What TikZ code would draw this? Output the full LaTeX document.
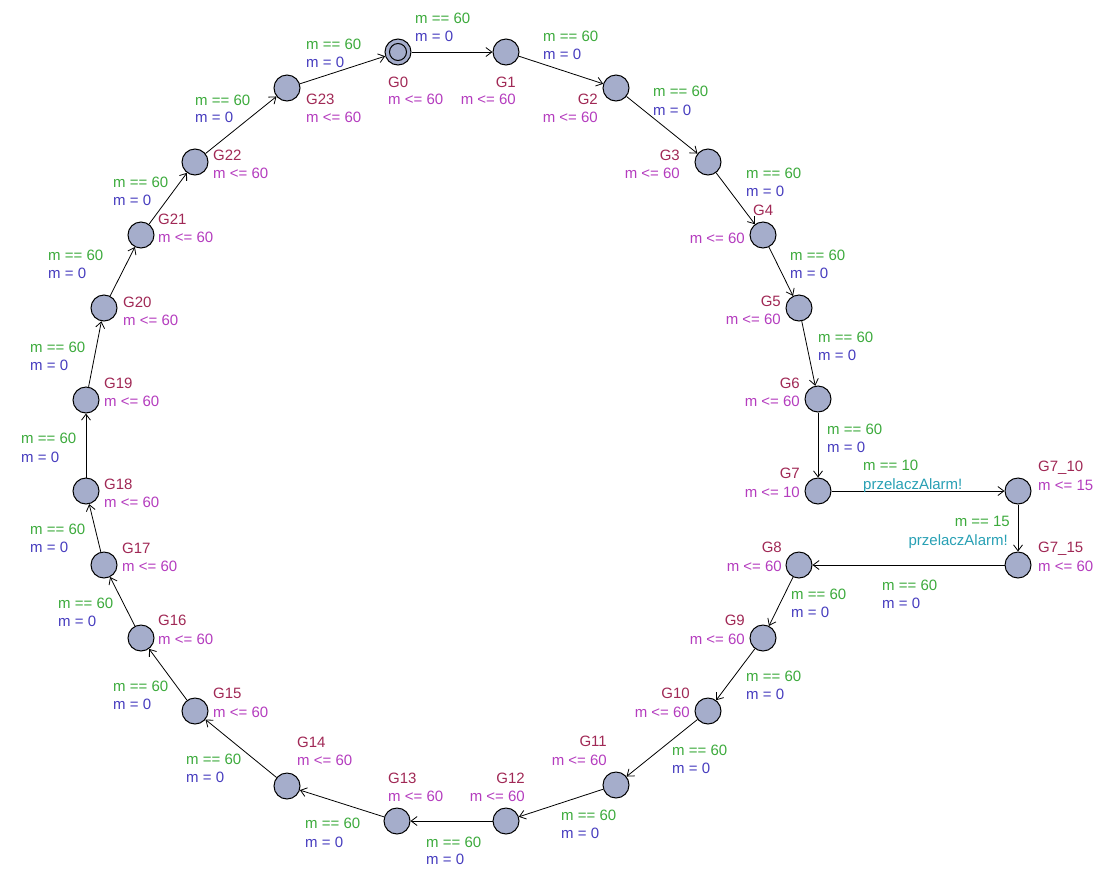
\documentclass[tikz,border=0pt]{standalone}
\usepackage{fontspec}
\setmainfont{Liberation Sans}
\usetikzlibrary{arrows.meta}
\definecolor{locfill}{RGB}{165,173,203}
\definecolor{namecol}{RGB}{160,40,85}
\definecolor{invcol}{RGB}{180,60,190}
\definecolor{guardcol}{RGB}{60,170,60}
\definecolor{updcol}{RGB}{70,60,190}
\definecolor{synccol}{RGB}{40,160,180}
\begin{document}
\begin{tikzpicture}[x=1pt,y=-1pt,
  loc/.style={circle,draw=black,fill=locfill,minimum size=26pt,inner sep=0pt,line width=1pt},
  edge/.style={draw,line width=0.8pt,-{Straight Barb[length=6pt,width=9pt,line width=0.8pt]}},
  lbl/.style={inner sep=0pt,font=\fontsize{15}{18}\selectfont},
  lw/.style={lbl,anchor=base west},
  le/.style={lbl,anchor=base east},
  nm/.style={text=namecol},
  iv/.style={text=invcol},
  gd/.style={text=guardcol},
  up/.style={text=updcol},
  sy/.style={text=synccol}]
\useasboundingbox (0,0) rectangle (1114,879);
% locations
\node[loc] (G0) at (398,52) {};
\draw[line width=1pt] (G0.center) circle (8.5pt);
\node[loc] (G1) at (506,52) {};
\node[loc] (G2) at (616,88) {};
\node[loc] (G3) at (708,162) {};
\node[loc] (G4) at (763,235) {};
\node[loc] (G5) at (799,308) {};
\node[loc] (G6) at (818,399) {};
\node[loc] (G7) at (818,491) {};
\node[loc] (G710) at (1018,491) {};
\node[loc] (G715) at (1018,565) {};
\node[loc] (G8) at (799,565) {};
\node[loc] (G9) at (763,638) {};
\node[loc] (G10) at (708,711) {};
\node[loc] (G11) at (616,785) {};
\node[loc] (G12) at (506,821) {};
\node[loc] (G13) at (397,821) {};
\node[loc] (G14) at (287,786) {};
\node[loc] (G15) at (195,711) {};
\node[loc] (G16) at (141,638) {};
\node[loc] (G17) at (104,565) {};
\node[loc] (G18) at (86,491) {};
\node[loc] (G19) at (86,400) {};
\node[loc] (G20) at (104,308) {};
\node[loc] (G21) at (141,235) {};
\node[loc] (G22) at (195,162) {};
\node[loc] (G23) at (287,88) {};
% edges
\foreach \a/\b in {G0/G1,G1/G2,G2/G3,G3/G4,G4/G5,G5/G6,G6/G7,G7/G710,G710/G715,G715/G8,G8/G9,G9/G10,G10/G11,G11/G12,G12/G13,G13/G14,G14/G15,G15/G16,G16/G17,G17/G18,G18/G19,G19/G20,G20/G21,G21/G22,G22/G23,G23/G0}
  \draw[edge] (\a) -- (\b);
% location names and invariants
\node[lw,nm] (n0) at (388,87) {G0};   \node[lw,iv] (i0) at (388,104) {m <= 60};
\node[le,nm] (n1) at (516,87) {G1};   \node[le,iv] (i1) at (516,104) {m <= 60};
\node[le,nm] (n2) at (598,104) {G2};  \node[le,iv] (i2) at (598,122) {m <= 60};
\node[le,nm] (n3) at (680,160) {G3};  \node[le,iv] (i3) at (680,178) {m <= 60};
\node[lw,nm] (n4) at (753,215) {G4};  \node[le,iv] (i4) at (745,243) {m <= 60};
\node[le,nm] (n5) at (781,306) {G5};  \node[le,iv] (i5) at (781,324) {m <= 60};
\node[le,nm] (n6) at (800,388) {G6};  \node[le,iv] (i6) at (800,406) {m <= 60};
\node[le,nm] (n7) at (800,478) {G7};  \node[le,iv] (i7) at (800,497) {m <= 10};
\node[lw,nm] (n710) at (1038,471) {G7\_10}; \node[lw,iv] (i710) at (1038,490) {m <= 15};
\node[lw,nm] (n715) at (1038,552) {G7\_15}; \node[lw,iv] (i715) at (1038,571) {m <= 60};
\node[le,nm] (n8) at (782,552) {G8};  \node[le,iv] (i8) at (782,571) {m <= 60};
\node[le,nm] (n9) at (745,625) {G9};  \node[le,iv] (i9) at (745,644) {m <= 60};
\node[le,nm] (n10) at (690,698) {G10}; \node[le,iv] (i10) at (690,717) {m <= 60};
\node[le,nm] (n11) at (607,746) {G11}; \node[le,iv] (i11) at (607,765) {m <= 60};
\node[le,nm] (n12) at (525,783) {G12}; \node[le,iv] (i12) at (525,801) {m <= 60};
\node[lw,nm] (n13) at (388,783) {G13}; \node[lw,iv] (i13) at (388,801) {m <= 60};
\node[lw,nm] (n14) at (297,747) {G14}; \node[lw,iv] (i14) at (297,765) {m <= 60};
\node[lw,nm] (n15) at (213,698) {G15}; \node[lw,iv] (i15) at (213,717) {m <= 60};
\node[lw,nm] (n16) at (158,625) {G16}; \node[lw,iv] (i16) at (158,644) {m <= 60};
\node[lw,nm] (n17) at (122,553) {G17}; \node[lw,iv] (i17) at (122,571) {m <= 60};
\node[lw,nm] (n18) at (104,489) {G18}; \node[lw,iv] (i18) at (104,507) {m <= 60};
\node[lw,nm] (n19) at (104,388) {G19}; \node[lw,iv] (i19) at (104,406) {m <= 60};
\node[lw,nm] (n20) at (123,307) {G20}; \node[lw,iv] (i20) at (123,325) {m <= 60};
\node[lw,nm] (n21) at (158,224) {G21}; \node[lw,iv] (i21) at (158,242) {m <= 60};
\node[lw,nm] (n22) at (213,160) {G22}; \node[lw,iv] (i22) at (213,178) {m <= 60};
\node[lw,nm] (n23) at (306,104) {G23}; \node[lw,iv] (i23) at (306,122) {m <= 60};
% edge labels
\node[lw,gd] (g0) at (415,23) {m == 60};  \node[lw,up] (u0) at (415,41) {m = 0};
\node[lw,gd] (g1) at (543,41) {m == 60};  \node[lw,up] (u1) at (543,59) {m = 0};
\node[lw,gd] (g2) at (653,96) {m == 60};  \node[lw,up] (u2) at (653,115) {m = 0};
\node[lw,gd] (g3) at (746,178) {m == 60}; \node[lw,up] (u3) at (746,196) {m = 0};
\node[lw,gd] (g4) at (790,260) {m == 60}; \node[lw,up] (u4) at (790,278) {m = 0};
\node[lw,gd] (g5) at (818,342) {m == 60}; \node[lw,up] (u5) at (818,360) {m = 0};
\node[lw,gd] (g6) at (827,434) {m == 60}; \node[lw,up] (u6) at (827,452) {m = 0};
\node[lw,gd] (g7) at (863,470) {m == 10}; \node[lw,sy] (s7) at (863,489) {przelaczAlarm!};
\node[le,gd] (g710) at (1010,526) {m == 15}; \node[le,sy] (s710) at (1008,545) {przelaczAlarm!};
\node[lw,gd] (g715) at (882,590) {m == 60}; \node[lw,up] (u715) at (882,608) {m = 0};
\node[lw,gd] (g8) at (791,599) {m == 60}; \node[lw,up] (u8) at (791,617) {m = 0};
\node[lw,gd] (g9) at (746,681) {m == 60}; \node[lw,up] (u9) at (746,699) {m = 0};
\node[lw,gd] (g10) at (672,755) {m == 60}; \node[lw,up] (u10) at (672,773) {m = 0};
\node[lw,gd] (g11) at (561,820) {m == 60}; \node[lw,up] (u11) at (561,838) {m = 0};
\node[lw,gd] (g12) at (426,847) {m == 60}; \node[lw,up] (u12) at (426,864) {m = 0};
\node[lw,gd] (g13) at (305,828) {m == 60}; \node[lw,up] (u13) at (305,847) {m = 0};
\node[lw,gd] (g14) at (186,764) {m == 60}; \node[lw,up] (u14) at (186,782) {m = 0};
\node[lw,gd] (g15) at (113,691) {m == 60}; \node[lw,up] (u15) at (113,709) {m = 0};
\node[lw,gd] (g16) at (58,608) {m == 60};  \node[lw,up] (u16) at (58,626) {m = 0};
\node[lw,gd] (g17) at (30,534) {m == 60};  \node[lw,up] (u17) at (30,552) {m = 0};
\node[lw,gd] (g18) at (21,443) {m == 60};  \node[lw,up] (u18) at (21,462) {m = 0};
\node[lw,gd] (g19) at (30,352) {m == 60};  \node[lw,up] (u19) at (30,370) {m = 0};
\node[lw,gd] (g20) at (48,260) {m == 60};  \node[lw,up] (u20) at (48,278) {m = 0};
\node[lw,gd] (g21) at (113,187) {m == 60}; \node[lw,up] (u21) at (113,205) {m = 0};
\node[lw,gd] (g22) at (195,105) {m == 60}; \node[lw,up] (u22) at (195,122) {m = 0};
\node[lw,gd] (g23) at (306,49) {m == 60};  \node[lw,up] (u23) at (306,67) {m = 0};
\end{tikzpicture}
\end{document}
